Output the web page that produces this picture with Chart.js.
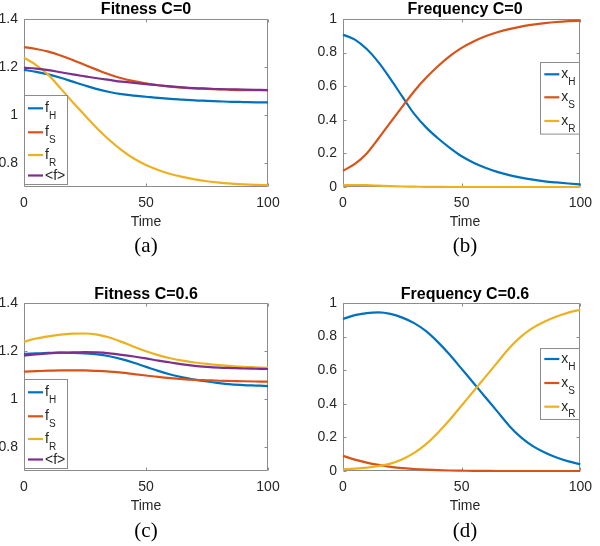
<!DOCTYPE html>
<html lang="en">
<head>
<meta charset="UTF-8">
<title>Fitness and frequency</title>
<script src="https://cdn.jsdelivr.net/npm/chart.js@4.4.1/dist/chart.umd.min.js"></script>
<style>
    body { margin: 0; background: #fff; }
    #fig { position: relative; width: 600px; height: 546px; overflow: hidden;
           font-family: "Liberation Sans", Arial, sans-serif; color: #262626; }
    canvas { position: absolute; }
    .lbl { position: absolute; transform: translate(-50%, -50%); white-space: nowrap; line-height: 1; }
    .ttl { font-weight: bold; font-size: 16px; color: #000; }
    .xt { font-size: 14px; }
    .cap { font-family: "Liberation Serif", serif; font-size: 21px; color: #000; }
</style>
</head>
<body>
<div id="fig">
    <canvas id="c1" width="300" height="235" style="left:0;top:0"></canvas>
    <canvas id="c2" width="300" height="235" style="left:300px;top:0"></canvas>
    <canvas id="c3" width="300" height="235" style="left:0;top:284px"></canvas>
    <canvas id="c4" width="300" height="235" style="left:300px;top:284px"></canvas>

    <div class="lbl ttl" style="left:146px;top:9px">Fitness C=0</div>
    <div class="lbl ttl" style="left:465px;top:9px">Frequency C=0</div>
    <div class="lbl ttl" style="left:146px;top:294px">Fitness C=0.6</div>
    <div class="lbl ttl" style="left:465px;top:294px">Frequency C=0.6</div>

    <div class="lbl xt" style="left:146px;top:221px">Time</div>
    <div class="lbl xt" style="left:465px;top:221px">Time</div>
    <div class="lbl xt" style="left:146px;top:505px">Time</div>
    <div class="lbl xt" style="left:465px;top:505px">Time</div>

    <div class="lbl cap" style="left:146px;top:245px">(a)</div>
    <div class="lbl cap" style="left:465px;top:245px">(b)</div>
    <div class="lbl cap" style="left:146px;top:530px">(c)</div>
    <div class="lbl cap" style="left:465px;top:530px">(d)</div>
</div>

<script>
    // ---- data ----
    var times = [0, 5, 10, 15, 20, 25, 30, 35, 40, 45, 50, 55, 60, 65, 70, 75, 80, 85, 90, 95, 100];

    // (a) fitness, C=0
    var fitC0_H   = [1.188, 1.180, 1.169, 1.155, 1.139, 1.123, 1.108, 1.096, 1.087, 1.081, 1.076, 1.071, 1.067, 1.064, 1.061, 1.059, 1.057, 1.055, 1.054, 1.053, 1.053];
    var fitC0_S   = [1.283, 1.275, 1.264, 1.248, 1.229, 1.208, 1.188, 1.169, 1.153, 1.141, 1.132, 1.124, 1.118, 1.114, 1.111, 1.109, 1.107, 1.105, 1.104, 1.104, 1.104];
    var fitC0_R   = [1.239, 1.208, 1.167, 1.111, 1.053, 0.998, 0.944, 0.896, 0.854, 0.819, 0.792, 0.771, 0.754, 0.742, 0.732, 0.724, 0.718, 0.714, 0.711, 0.709, 0.708];
    var fitC0_avg = [1.197, 1.193, 1.187, 1.178, 1.169, 1.161, 1.153, 1.146, 1.139, 1.134, 1.129, 1.124, 1.119, 1.115, 1.112, 1.110, 1.108, 1.107, 1.106, 1.105, 1.104];

    // (b) frequency, C=0
    var freqC0_H = [0.907, 0.877, 0.821, 0.742, 0.643, 0.538, 0.435, 0.355, 0.290, 0.233, 0.183, 0.145, 0.115, 0.090, 0.071, 0.056, 0.044, 0.034, 0.027, 0.021, 0.016];
    var freqC0_S = [0.097, 0.137, 0.200, 0.290, 0.385, 0.478, 0.570, 0.650, 0.719, 0.779, 0.828, 0.866, 0.897, 0.921, 0.940, 0.955, 0.966, 0.975, 0.982, 0.987, 0.990];
    var freqC0_R = [0.010, 0.012, 0.011, 0.008, 0.005, 0.003, 0.002, 0.001, 0.001, 0, 0, 0, 0, 0, 0, 0, 0, 0, 0, 0, 0];

    // (c) fitness, C=0.6
    var fitC6_H   = [1.188, 1.190, 1.192, 1.193, 1.192, 1.190, 1.186, 1.178, 1.166, 1.151, 1.134, 1.117, 1.102, 1.090, 1.081, 1.073, 1.066, 1.061, 1.058, 1.056, 1.054];
    var fitC6_S   = [1.114, 1.116, 1.118, 1.119, 1.119, 1.119, 1.117, 1.114, 1.110, 1.104, 1.098, 1.092, 1.087, 1.083, 1.080, 1.078, 1.076, 1.075, 1.074, 1.073, 1.072];
    var fitC6_R   = [1.239, 1.252, 1.261, 1.268, 1.272, 1.273, 1.268, 1.256, 1.238, 1.218, 1.199, 1.183, 1.170, 1.160, 1.152, 1.146, 1.141, 1.137, 1.134, 1.132, 1.130];
    var fitC6_avg = [1.181, 1.186, 1.190, 1.193, 1.194, 1.195, 1.194, 1.190, 1.184, 1.177, 1.169, 1.160, 1.152, 1.144, 1.138, 1.134, 1.131, 1.129, 1.127, 1.126, 1.125];

    // (d) frequency, C=0.6
    var freqC6_H = [0.905, 0.928, 0.940, 0.944, 0.935, 0.913, 0.880, 0.832, 0.767, 0.692, 0.608, 0.524, 0.439, 0.355, 0.270, 0.200, 0.148, 0.110, 0.080, 0.057, 0.040];
    var freqC6_S = [0.090, 0.068, 0.050, 0.036, 0.025, 0.017, 0.012, 0.008, 0.005, 0.003, 0.002, 0.001, 0.001, 0, 0, 0, 0, 0, 0, 0, 0];
    var freqC6_R = [0.010, 0.014, 0.020, 0.030, 0.044, 0.070, 0.108, 0.160, 0.228, 0.305, 0.390, 0.475, 0.560, 0.645, 0.730, 0.800, 0.852, 0.890, 0.920, 0.943, 0.960];

    // ticks and legend text
    var timeTicks = [0, 50, 100];
    var fitTicks = [0.8, 1, 1.2, 1.4];
    var freqTicks = [0, 0.2, 0.4, 0.6, 0.8, 1];
    var fitNames = ['f', 'f', 'f', '<f>'];
    var fitSubs = ['H', 'S', 'R', ''];
    var freqNames = ['x', 'x', 'x'];
    var freqSubs = ['H', 'S', 'R'];

    var colors = ['#0072BD', '#D95319', '#EDB120', '#7E2F8E'];

    //-------------------------------------------- box, inward ticks, legend ----------------------------------------
    var framePlugin = {
        id: 'frame',
        beforeDatasetsDraw: function (chart) {
            var ctx = chart.ctx, a = chart.chartArea;
            var xs = chart.scales.x, ys = chart.scales.y;
            var L = Math.round(a.left) + 0.5, R = Math.round(a.right) - 0.5;
            var T = Math.round(a.top) + 0.5, B = Math.round(a.bottom) - 0.5;
            ctx.save();
            ctx.strokeStyle = '#8c8c8c';
            ctx.lineWidth = 1;
            ctx.beginPath();
            ctx.rect(L, T, R - L, B - T);
            xs.ticks.forEach(function (t) {
                var px = Math.round(xs.getPixelForValue(t.value)) + 0.5;
                ctx.moveTo(px, B); ctx.lineTo(px, B - 3);
                ctx.moveTo(px, T); ctx.lineTo(px, T + 3);
            });
            ys.ticks.forEach(function (t) {
                var py = Math.round(ys.getPixelForValue(t.value)) + 0.5;
                ctx.moveTo(L, py); ctx.lineTo(L + 3, py);
                ctx.moveTo(R, py); ctx.lineTo(R - 3, py);
            });
            ctx.stroke();
            ctx.restore();
        },
        afterDraw: function (chart, args, opts) {
            var lg = opts.legend;
            if (!lg) return;
            var ctx = chart.ctx, a = chart.chartArea;
            var bx = lg.right ? a.right - lg.width : a.left;
            var by = a.top + lg.top;
            ctx.save();
            ctx.fillStyle = '#fff';
            ctx.strokeStyle = '#8c8c8c';
            ctx.lineWidth = 1;
            ctx.fillRect(Math.round(bx) + 0.5, Math.round(by) + 0.5, lg.width - 1, lg.height);
            ctx.strokeRect(Math.round(bx) + 0.5, Math.round(by) + 0.5, lg.width - 1, lg.height);
            chart.data.datasets.forEach(function (ds, i) {
                var y = by + lg.rows[i];
                ctx.strokeStyle = ds.borderColor;
                ctx.lineWidth = 2.2;
                ctx.beginPath();
                ctx.moveTo(bx + 4, y);
                ctx.lineTo(bx + 19, y);
                ctx.stroke();
                ctx.fillStyle = '#262626';
                ctx.textBaseline = 'alphabetic';
                ctx.textAlign = 'left';
                ctx.font = '14px "Liberation Sans", Arial, sans-serif';
                ctx.fillText(lg.names[i], bx + 21, y + 4);
                var w = ctx.measureText(lg.names[i]).width;
                if (lg.subs[i]) {
                    ctx.font = '10px "Liberation Sans", Arial, sans-serif';
                    ctx.fillText(lg.subs[i], bx + 21 + w, y + 10.5);
                }
            });
            ctx.restore();
        }
    };

    function makeSets(series) {
        return series.map(function (arr, i) {
            return {
                data: times.map(function (t, k) { return {x: t, y: arr[k]}; }),
                borderColor: colors[i],
                borderWidth: 2.2,
                pointRadius: 0,
                fill: false,
                cubicInterpolationMode: 'monotone',
                clip: false,
                order: series.length - i
            };
        });
    }

    function makeChart(id, series, yMin, yMax, yTicks, leftW, rightPad, legend) {
        var tickFont = {family: '"Liberation Sans", Arial, sans-serif', size: 14};
        return new Chart(document.getElementById(id), {
            type: 'line',
            data: {datasets: makeSets(series)},
            options: {
                responsive: false,
                animation: false,
                layout: {padding: {left: 0, right: rightPad, top: 19, bottom: 0}},
                plugins: {legend: {display: false}, tooltip: {enabled: false}, frame: {legend: legend}},
                scales: {
                    x: {
                        type: 'linear', min: 0, max: 100,
                        grid: {display: false, drawTicks: false}, border: {display: false},
                        afterBuildTicks: function (s) { s.ticks = timeTicks.map(function (v) { return {value: v}; }); },
                        afterFit: function (s) { s.height = 48; },
                        ticks: {font: tickFont, color: '#262626', padding: 8, maxRotation: 0,
                                callback: function (v) { return String(v); }}
                    },
                    y: {
                        type: 'linear', min: yMin, max: yMax,
                        grid: {display: false, drawTicks: false}, border: {display: false},
                        afterBuildTicks: function (s) { s.ticks = yTicks.map(function (v) { return {value: v}; }); },
                        afterFit: function (s) { s.width = leftW; },
                        ticks: {font: tickFont, color: '#262626', padding: 6,
                                callback: function (v) { return String(Number(v.toFixed(2))); }}
                    }
                }
            },
            plugins: [framePlugin]
        });
    }

    var fitLegend = {right: false, top: 76, width: 44, height: 89, rows: [13.3, 37.3, 60, 80.5], names: fitNames, subs: fitSubs};

    makeChart('c1', [fitC0_H, fitC0_S, fitC0_R, fitC0_avg], 0.7, 1.4, fitTicks, 24, 32, fitLegend);
    makeChart('c2', [freqC0_H, freqC0_S, freqC0_R], 0, 1, freqTicks, 43, 13,
        {right: true, top: 42.7, width: 40, height: 71.6, rows: [12.6, 35.6, 59.3], names: freqNames, subs: freqSubs});
    makeChart('c3', [fitC6_H, fitC6_S, fitC6_R, fitC6_avg], 0.7, 1.4, fitTicks, 24, 32, fitLegend);
    makeChart('c4', [freqC6_H, freqC6_S, freqC6_R], 0, 1, freqTicks, 43, 13,
        {right: true, top: 44.5, width: 40, height: 71, rows: [11.5, 35.5, 59.2], names: freqNames, subs: freqSubs});
</script>
</body>
</html>
